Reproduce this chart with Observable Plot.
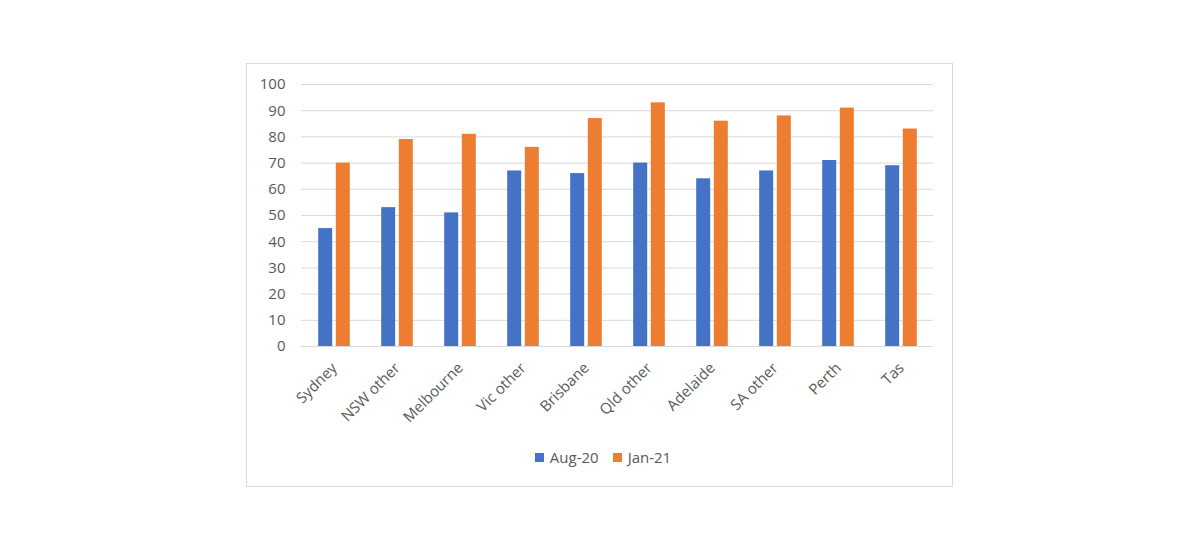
<!DOCTYPE html>
<html>
<head>
<meta charset="utf-8">
<script src="https://cdn.jsdelivr.net/npm/d3@7"></script>
<script src="https://cdn.jsdelivr.net/npm/@observablehq/plot@0.6"></script>
<style>
  html, body { margin: 0; padding: 0; background: #fff; width: 1200px; height: 550px; overflow: hidden; }
  #frame { position: absolute; left: 246px; top: 63px; width: 707px; height: 424px; box-sizing: border-box; border: 1px solid #d9d9d9; background: #fff; }
  #chart { position: absolute; left: 0; top: 0; }
  #legend { position: absolute; left: 0; top: 383px; width: 100%; display: flex; justify-content: center; padding-left: 7px; box-sizing: border-box;
            font-family: "Open Sans", sans-serif; font-size: 15px; color: #595959; }
  .item { display: flex; align-items: center; margin: 0 7px; }
  .sw { width: 9px; height: 9px; margin-right: 6px; }
</style>
</head>
<body>
<div id="frame">
  <div id="chart"></div>
  <div id="legend"></div>
</div>
<script>
const categories = ["Sydney", "NSW other", "Melbourne", "Vic other", "Brisbane", "Qld other", "Adelaide", "SA other", "Perth", "Tas"];
const seriesNames = ["Aug-20", "Jan-21"];
const aug20 = [45, 53, 51, 67, 66, 70, 64, 67, 71, 69];
const jan21 = [70, 79, 81, 76, 87, 93, 86, 88, 91, 83];
const yTicks = [0, 10, 20, 30, 40, 50, 60, 70, 80, 90, 100];
const colors = ["#4472C4", "#ED7D31"];

const rowsA = categories.map((c, i) => ({category: c, series: seriesNames[0], value: aug20[i]}));
const rowsJ = categories.map((c, i) => ({category: c, series: seriesNames[1], value: jan21[i]}));

const barW = 14, barGap = 3.6;
const plot = Plot.plot({
  width: 705,
  height: 370,
  marginLeft: 54,
  marginRight: 19,
  marginTop: 20,
  marginBottom: 88,
  style: {fontFamily: "'Open Sans', sans-serif", fontSize: "15px", color: "#595959", background: "transparent"},
  x: {domain: categories, paddingInner: 1 - barW / 63.1, paddingOuter: (1 - barW / 63.1) / 2, label: null, tickSize: 0, tickRotate: -45, tickPadding: 19},
  y: {domain: [0, 100], ticks: yTicks, label: null, tickSize: 0, tickPadding: 16},
  color: {domain: seriesNames, range: colors},
  marks: [
    Plot.gridY(yTicks, {stroke: "#d9d9d9", strokeOpacity: 1, strokeWidth: 1}),
    Plot.barY(rowsA, {x: "category", y: "value", fill: "series", dx: -(barW + barGap) / 2}),
    Plot.barY(rowsJ, {x: "category", y: "value", fill: "series", dx: (barW + barGap) / 2}),
    Plot.ruleY([0], {stroke: "#d9d9d9", strokeWidth: 1})
  ]
});
document.getElementById("chart").appendChild(plot);

const legend = document.getElementById("legend");
seriesNames.forEach((s, i) => {
  const it = document.createElement("div");
  it.className = "item";
  const sw = document.createElement("div");
  sw.className = "sw";
  sw.style.background = colors[i];
  const t = document.createElement("span");
  t.textContent = s;
  it.appendChild(sw); it.appendChild(t);
  legend.appendChild(it);
});
</script>
</body>
</html>
